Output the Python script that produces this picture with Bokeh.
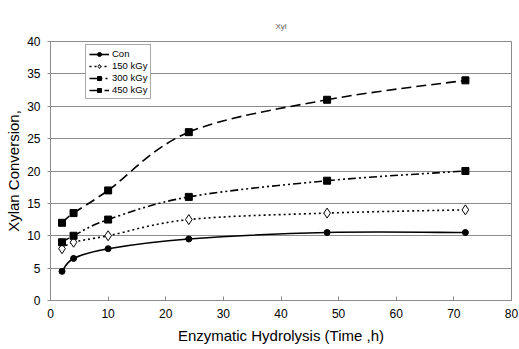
from bokeh.plotting import figure
from bokeh.models import Legend, LegendItem, Range1d, ColumnDataSource
from bokeh.embed import file_html
from bokeh.resources import INLINE
import numpy as np

hours = [2, 4, 10, 24, 48, 72]
con = [4.5, 6.5, 8, 9.5, 10.5, 10.5]
kgy150 = [8, 9, 10, 12.5, 13.5, 14]
kgy300 = [9, 10, 12.5, 16, 18.5, 20]
kgy450 = [12, 13.5, 17, 26, 31, 34]
series_names = ["Con", "150 kGy", "300 kGy", "450 kGy"]
x_ticks = [0, 10, 20, 30, 40, 50, 60, 70, 80]
y_ticks = [0, 5, 10, 15, 20, 25, 30, 35, 40]

FONT = "Liberation Sans"
GRID = "#8c8c8c"

p = figure(width=519, height=349, output_backend="svg", toolbar_location=None,
           x_range=Range1d(0, 80), y_range=Range1d(0, 40),
           min_border_left=50, min_border_right=8, min_border_top=41, min_border_bottom=49)
p.background_fill_color = "white"
p.border_fill_color = "white"
p.outline_line_color = GRID
p.outline_line_width = 1

p.title.text = "Xyl"
p.title.text_font = FONT
p.title.text_font_size = "8px"
p.title.text_font_style = "normal"
p.title.text_color = "#555555"
p.title.align = "center"
p.title.standoff = 21

p.xgrid.grid_line_color = None
p.ygrid.grid_line_color = GRID
p.ygrid.grid_line_width = 1

p.xaxis.ticker = x_ticks
p.yaxis.ticker = y_ticks
for ax in (p.xaxis[0], p.yaxis[0]):
    ax.axis_line_color = GRID
    ax.major_tick_line_color = GRID
    ax.minor_tick_line_color = None
    ax.major_label_text_font = FONT
    ax.major_label_text_font_size = "12px"
    ax.major_label_text_color = "black"
    ax.axis_label_text_font = FONT
    ax.axis_label_text_font_size = "15px"
    ax.axis_label_text_font_style = "normal"
    ax.axis_label_text_color = "black"

p.xaxis.major_tick_in = 4
p.xaxis.major_tick_out = 0
p.xaxis.major_label_standoff = 8
p.xaxis.axis_label = "Enzymatic Hydrolysis (Time ,h)"
p.xaxis.axis_label_standoff = 6

p.yaxis.major_tick_in = 0
p.yaxis.major_tick_out = 3
p.yaxis.major_label_standoff = 7
p.yaxis.axis_label = "Xylan Conversion,"
p.yaxis.axis_label_standoff = 2


def smooth_segments(xs, ys):
    xs = np.asarray(xs, float)
    ys = np.asarray(ys, float)
    n = len(xs)
    px = np.concatenate([[xs[0]], xs, [xs[-1]]])
    py = np.concatenate([[ys[0]], ys, [ys[-1]]])
    d = dict(x0=[], y0=[], x1=[], y1=[], cx0=[], cy0=[], cx1=[], cy1=[])
    for i in range(n - 1):
        p0x, p0y = px[i], py[i]
        p1x, p1y = px[i + 1], py[i + 1]
        p2x, p2y = px[i + 2], py[i + 2]
        p3x, p3y = px[i + 3], py[i + 3]
        d["x0"].append(p1x); d["y0"].append(p1y)
        d["x1"].append(p2x); d["y1"].append(p2y)
        d["cx0"].append(p1x + (p2x - p0x) / 6); d["cy0"].append(p1y + (p2y - p0y) / 6)
        d["cx1"].append(p2x - (p3x - p1x) / 6); d["cy1"].append(p2y - (p3y - p1y) / 6)
    return ColumnDataSource(d)


styles = [
    dict(dash="solid", marker="circle", size=6, fill="black"),
    dict(dash="2 3", marker="diamond", size=10, fill="white"),
    dict(dash="8 3 2 3 2 3", marker="square", size=7, fill="black"),
    dict(dash="10 5", marker="square", size=7, fill="black"),
]
all_series = [con, kgy150, kgy300, kgy450]

items = []
for name, ys, st in zip(series_names, all_series, styles):
    src = smooth_segments(hours, ys)
    br = p.bezier(x0="x0", y0="y0", x1="x1", y1="y1", cx0="cx0", cy0="cy0",
                  cx1="cx1", cy1="cy1", source=src, line_color="black",
                  line_width=1.6, line_dash=st["dash"])
    sr = p.scatter(x=hours, y=ys, marker=st["marker"], size=st["size"],
                   fill_color=st["fill"], line_color="black", line_width=1)
    items.append(LegendItem(label=name, renderers=[br, sr]))

legend = Legend(items=items, location=(35, 201))
legend.label_text_font = FONT
legend.label_text_font_size = "9.5px"
legend.label_text_color = "black"
legend.glyph_width = 20
legend.glyph_height = 10
legend.label_height = 10
legend.label_standoff = 3
legend.spacing = 1
legend.padding = 3
legend.margin = 0
legend.border_line_color = "#555555"
legend.border_line_width = 1
legend.background_fill_color = "white"
legend.background_fill_alpha = 1
p.add_layout(legend, "center")

open("out.html", "w").write(file_html(p, INLINE))
